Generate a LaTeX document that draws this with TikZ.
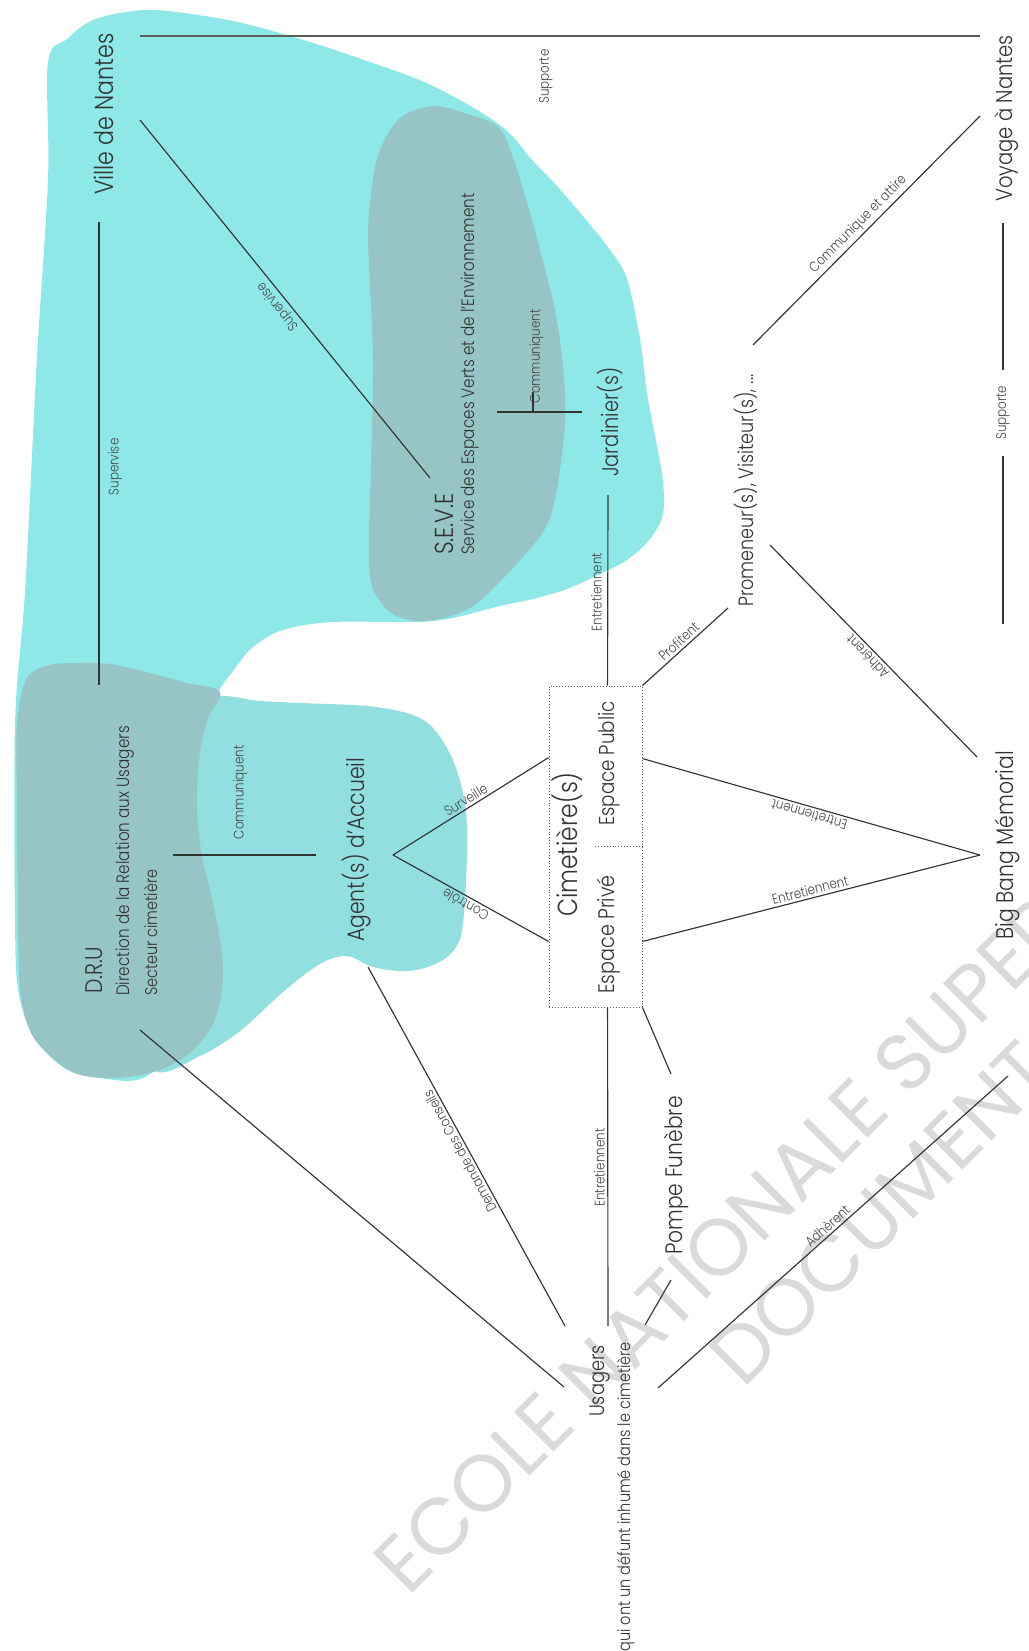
\documentclass[tikz,border=0pt]{standalone}
\usepackage{fontspec}
\IfFontExistsTF{Poppins Light}{%
	\setmainfont{Poppins Light}[FakeStretch=0.85]}{%
	\setmainfont{Poppins}[FakeStretch=0.85]}
\newfontfamily\stampfont{Poppins}
\usetikzlibrary{calc}

\definecolor{lagoon}{HTML}{8FE8E8}
\definecolor{lagoonb}{HTML}{92DFDF}
\definecolor{slate}{HTML}{97C4C4}
\definecolor{ink}{HTML}{333333}
\definecolor{stampgray}{HTML}{DADADA}

\begin{document}
\begin{tikzpicture}[
x = 1pt, y = -1pt,
every node/.style = {
	text = ink
},
actor/.style = {
	rotate = 90,
	anchor = base west,
	inner sep = 0pt,
	font = \fontsize{#1}{#1}\selectfont
},
actor/.default = 25,
tag/.style = {
	font = \fontsize{14}{16}\selectfont,
	text = ink!90,
	inner sep = 2.5pt
},
link/.style = {
	draw = ink,
	line width = 1.15pt
},
cimbox/.style = {
	draw = ink!80,
	dotted,
	line width = 0.9pt,
	minimum width = 93pt,
	minimum height = 321pt,
	inner sep = 0pt
},
wmark/.style = {
	rotate = 45,
	anchor = base west,
	inner sep = 0pt,
	text = stampgray,
	font = \stampfont\fontsize{80}{80}\selectfont
}
]

\useasboundingbox (0,0) rectangle (1028,1651);
\clip (0,0) rectangle (1028,1651);

% blobs
\fill[lagoon] plot[smooth cycle, tension=0.55] coordinates {
	(48,62) (67,39) (93,20) (133,11) (167,11) (233,21) (300,39) (367,61)
	(433,86) (500,125) (533,161) (557,186) (587,221) (610,250) (627,279)
	(640,339) (647,393) (657,446) (663,482) (663,514) (650,539) (627,560)
	(600,574) (567,589) (533,599) (500,606) (433,621) (333,622) (283,630)
	(253,647) (233,671) (215,700) (205,760) (205,900) (200,1000) (150,1074)
	(100,1078) (63,1067) (33,1035) (18,989) (15,917) (15,724) (23,620)
	(27,557) (37,357) (48,179)};
\fill[lagoonb] plot[smooth cycle, tension=0.55] coordinates {
	(208,698) (260,701) (300,703) (367,706) (410,714) (433,728) (453,760)
	(465,803) (467,846) (465,899) (460,939) (443,960) (410,971) (373,967)
	(347,956) (320,964) (283,992) (240,1031) (200,1056) (153,1070)
	(120,1000) (130,850) (160,740)};
\fill[slate] plot[smooth cycle, tension=0.55] coordinates {
	(27,678) (50,665) (77,663) (110,664) (150,673) (187,683) (220,692)
	(207,721) (199,760) (197,810) (202,856) (213,903) (222,953) (222,989)
	(213,1024) (190,1053) (157,1071) (117,1078) (77,1074) (50,1056)
	(30,1031) (20,989) (18,917) (17,810) (17,724)};
\fill[slate] plot[smooth cycle, tension=0.55] coordinates {
	(433,106) (467,114) (500,129) (520,179) (540,250) (557,321) (565,393)
	(563,446) (550,518) (520,560) (473,606) (427,621) (393,614) (373,589)
	(369,557) (370,500) (372,429) (373,357) (370,286) (368,232) (372,186)
	(380,150) (400,118)};

% watermark
\node[wmark] (wm1) at (408,1598) {ECOLE NATIONALE SUPERIEURE};
\node[wmark] (wm2) at (743,1390) {DOCUMENT SOUMIS};

% actors
\node (vdn) [actor=26] at (113,195) {Ville de Nantes};
\node (voy) [actor=23] at (1012,202) {Voyage à Nantes};
\node (seve) [actor=26] at (453,555) {S.E.V.E};
\node (sevedesc) [actor=17.9] at (474,555) {Service des Espaces Verts et de l'Environnement};
\node (jard) [actor=22.8] at (618,477) {Jardinier(s)};
\node (prom) [actor=20.7] at (753,607) {Promeneur(s), Visiteur(s), ...};
\node (agent) [actor=24] at (364,942) {Agent(s) d'Accueil};
\node (dru) [actor=24] at (102,994) {D.R.U};
\node (drudir) [actor=17.9] at (129,996) {Direction de la Relation aux Usagers};
\node (drusect) [actor=17] at (157,996) {Secteur cimetière};
\node (cim) [cimbox] at (595.5,846.5) {};
\node (cimtxt) [actor=27.5] at (577,917) {Cimetière(s)};
\node (pub) [actor=21.5] at (614,826) {Espace Public};
\node (priv) [actor=22.5] at (614,994) {Espace Privé};
\node (bbm) [actor=24] at (1013,940) {Big Bang Mémorial};
\node (pompe) [actor=23.8] at (682,1255) {Pompe Funèbre};
\node (usa) [actor=21] at (604,1417) {Usagers};
\node (usadesc) [actor=17, anchor=base east] at (630,1342) {qui ont un défunt inhumé dans le cimetière};

% links
\draw[link, line width=1.5pt, draw=ink!80] ($(vdn.base west)+(27,-159)$) -- ($(voy.base west)+(-32,-166)$)
	node[tag, pos=0.483, rotate=90, anchor=east, outer sep=11pt] {Supporte};
\draw[link] ($(vdn.base west)+(-14,27)$) -- ($(dru.base west)+(-3,-309)$)
	node[tag, pos=0.529, rotate=90, anchor=north, outer sep=6.5pt] {Supervise};
\draw[link] ($(seve.base west)+(-23,-77)$) -- ($(vdn.base west)+(27,-75)$)
	node[tag, pos=0.497, sloped, allow upside down, above] {Supervise};
\draw[link] ($(voy.base west)+(-9,21)$) -- ($(bbm.base west)+(-10,-316)$)
	node[tag, pos=0.473, rotate=90, fill=white, inner xsep=16pt, inner ysep=3pt] {Supporte};
\draw[link] ($(prom.base west)+(0,-262)$) -- ($(voy.base west)+(-32,-86)$)
	node[tag, pos=0.496, sloped, above] {Communique et attire};
\draw[link] ($(sevedesc.base west)+(23,-143)$) -- ($(jard.base west)+(-36,-65)$)
	node[tag, pos=0.465, rotate=90, anchor=west, outer sep=6.5pt] {Communiquent};
\draw[link] ($(sevedesc.base west)+(59,-143)$) -- ++(0,-20);
\draw[link] ($(jard.base west)+(-10,18)$) -- ($(cim.north west)+(59,0)$)
	node[tag, pos=0.51, rotate=90, anchor=south, outer sep=3.5pt] {Entretiennent};
\draw[link] ($(drusect.base west)+(16,-141)$) -- ($(agent.base west)+(-48,-87)$)
	node[tag, pos=0.469, rotate=90, anchor=west, outer sep=13.5pt] {Communiquent};
\draw[link] ($(agent.base west)+(29,-87)$) -- ($(cim.north west)+(0,72)$)
	node[tag, pos=0.496, sloped, above] {Surveille};
\draw[link] ($(cim.south west)+(0,-66)$) -- ($(agent.base west)+(29,-87)$)
	node[tag, pos=0.508, sloped, allow upside down, above] {Contrôle};
\draw[link] (cim.north east) -- ($(prom.base west)+(-25,1)$)
	node[tag, pos=0.49, sloped, above] {Profitent};
\draw[link] ($(bbm.base west)+(-36,-183)$) -- ($(prom.base west)+(17,-62)$)
	node[tag, pos=0.5, sloped, allow upside down, above] {Adhérent};
\draw[link] ($(bbm.base west)+(-33,-85)$) -- ($(cim.north east)+(0,73)$)
	node[tag, pos=0.499, sloped, allow upside down, above] {Entretiennent};
\draw[link] ($(cim.south east)+(0,-66)$) -- ($(bbm.base west)+(-33,-85)$)
	node[tag, pos=0.503, sloped, above] {Entretiennent};
\draw[cimbox, minimum width=0pt, minimum height=0pt] (cim.east) -- ++(-48,0);
\draw[link] (cim.south east) -- ($(pompe.base west)+(-11,-181)$);
\draw[link] ($(cim.south west)+(59,0)$) -- ($(usa.base west)+(4,-91)$)
	node[tag, pos=0.503, rotate=90, anchor=south, outer sep=0.5pt] {Entretiennent};
\draw[link] ($(pompe.base west)+(-11,25)$) -- ($(usa.base west)+(41,-92)$);
\draw[link] ($(drudir.base west)+(11,34)$) -- ($(usa.base west)+(-40,-30)$);
\draw[link] ($(usa.base west)+(-39,-91)$) -- ($(agent.base west)+(4,25)$)
	node[tag, pos=0.497, sloped, allow upside down, above] {Demande des Conseils};
\draw[link] ($(usa.base west)+(54,-29)$) -- ($(bbm.base west)+(-5,136)$)
	node[tag, pos=0.5, sloped, above] {Adhèrent};

\end{tikzpicture}
\end{document}
